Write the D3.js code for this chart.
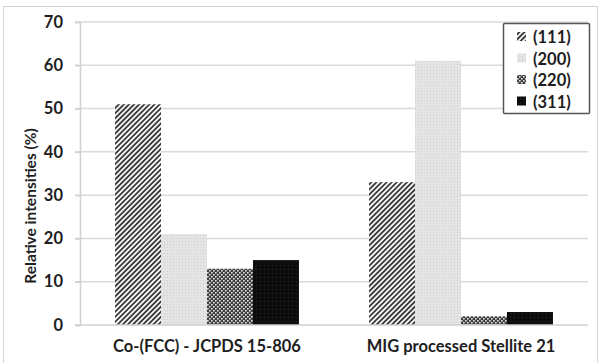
<!DOCTYPE html>
<html>
<head>
<meta charset="utf-8">
<script src="https://cdn.jsdelivr.net/npm/d3@7"></script>
<style>
html,body{margin:0;padding:0;background:#fff;}
svg{display:block;}
text{font-family:Lato,"Open Sans",sans-serif;font-weight:700;fill:#1e1e1e;}
</style>
</head>
<body>
<svg id="chart" width="604" height="363"></svg>
<script>
const categories = ["Co-(FCC) - JCPDS 15-806", "MIG processed Stellite 21"];
const seriesNames = ["(111)", "(200)", "(220)", "(311)"];
const s111 = [51, 33];
const s200 = [21, 61];
const s220 = [13, 2];
const s311 = [15, 3];
const yTicks = [0, 10, 20, 30, 40, 50, 60, 70];
const yTitle = "Relative intensities (%)";

const seriesValues = [s111, s200, s220, s311];
const patternIds = ["p111", "p200", "p220", "p311"];

const svg = d3.select("#chart");
const margin = {left: 80};

// outer chart border
svg.append("rect").attr("x", 3.5).attr("y", 6.5).attr("width", 594).attr("height", 370)
  .attr("fill", "none").attr("stroke", "#d4d4d4").attr("stroke-width", 1);

const defs = svg.append("defs");
// (111) diagonal stripes
const p1 = defs.append("pattern").attr("id", "p111").attr("patternUnits", "userSpaceOnUse")
  .attr("width", 3.6).attr("height", 3.6).attr("patternTransform", "rotate(45)");
p1.append("rect").attr("width", 3.6).attr("height", 3.6).attr("fill", "#f6f6f6");
p1.append("rect").attr("x", 0).attr("width", 1.8).attr("height", 3.6).attr("fill", "#3a3a3a");
// (200) light dotted
const p2 = defs.append("pattern").attr("id", "p200").attr("patternUnits", "userSpaceOnUse")
  .attr("width", 3).attr("height", 3);
p2.append("rect").attr("width", 3).attr("height", 3).attr("fill", "#e4e4e4");
p2.append("rect").attr("x", 1).attr("y", 1).attr("width", 1).attr("height", 1).attr("fill", "#cfcfcf");
// (220) checker dots
const p3 = defs.append("pattern").attr("id", "p220").attr("patternUnits", "userSpaceOnUse")
  .attr("width", 4).attr("height", 4);
p3.append("rect").attr("width", 4).attr("height", 4).attr("fill", "#3c3c3c");
p3.append("rect").attr("x", 0).attr("y", 0).attr("width", 1.6).attr("height", 1.6).attr("fill", "#e8e8e8");
p3.append("rect").attr("x", 2).attr("y", 2).attr("width", 1.6).attr("height", 1.6).attr("fill", "#e8e8e8");
// (311) near solid black
const p4 = defs.append("pattern").attr("id", "p311").attr("patternUnits", "userSpaceOnUse")
  .attr("width", 4).attr("height", 4);
p4.append("rect").attr("width", 4).attr("height", 4).attr("fill", "#0c0c0c");
p4.append("rect").attr("x", 1).attr("y", 1).attr("width", 1).attr("height", 1).attr("fill", "#2a2a2a");

const y = d3.scaleLinear().domain([0, 70]).range([325, 22]);
const x0 = d3.scaleBand().domain(categories).range([margin.left, 588]).paddingInner(0.276).paddingOuter(0.138);
const x1 = d3.scaleBand().domain(seriesNames).range([0, x0.bandwidth()]);

// gridlines
const grid = svg.append("g");
grid.selectAll("line").data(yTicks.filter(t => t > 0)).join("line")
  .attr("x1", 75).attr("x2", 588)
  .attr("y1", d => y(d)).attr("y2", d => y(d))
  .attr("stroke", "#d9d9d9").attr("stroke-width", 1.5);

// y axis
const yAxis = d3.axisLeft(y).tickValues(yTicks).tickSize(5).tickPadding(12);
const gy = svg.append("g").attr("transform", "translate(80,0)").call(yAxis);
gy.select(".domain").attr("stroke", "#d0d0d0").attr("stroke-width", 1.5);
gy.selectAll(".tick line").attr("stroke", "#d0d0d0").attr("stroke-width", 1.5);
gy.selectAll(".tick text").style("font-size", "16.5px").style("font-family", "Lato, sans-serif")
  .style("font-weight", "700").attr("fill", "#1e1e1e");

// bars
const groups = svg.append("g").selectAll("g").data(categories).join("g")
  .attr("transform", d => `translate(${x0(d)},0)`);
groups.selectAll("rect").data((d, i) => seriesNames.map((s, j) => ({s, j, v: seriesValues[j][i]})))
  .join("rect")
  .attr("x", d => x1(d.s)).attr("width", x1.bandwidth())
  .attr("y", d => y(d.v)).attr("height", d => y(0) - y(d.v))
  .attr("fill", d => `url(#${patternIds[d.j]})`);

// x axis
const xAxis = d3.axisBottom(x0).tickSize(0).tickPadding(15);
const gx = svg.append("g").attr("transform", "translate(0,325)").call(xAxis);
gx.select(".domain").attr("stroke", "#d0d0d0").attr("stroke-width", 1.5).attr("d", "M75,0H588");
gx.selectAll(".tick text").style("font-size", "16.5px").style("font-family", "Lato, sans-serif")
  .style("font-weight", "700").attr("fill", "#1e1e1e");

// y title
svg.append("text").attr("transform", "translate(36,206) rotate(-90)")
  .attr("text-anchor", "middle").style("font-size", "15.5px").text(yTitle);

// legend
const lg = svg.append("g").attr("transform", "translate(503,23)");
lg.append("rect").attr("x", 0.5).attr("y", 0.5).attr("width", 86).attr("height", 90)
  .attr("fill", "#fff").attr("stroke", "#555").attr("stroke-width", 1.5).attr("rx", 1);
const items = lg.selectAll("g").data(seriesNames).join("g")
  .attr("transform", (d, i) => `translate(0,${14 + i * 21.5})`);
items.append("rect").attr("x", 14).attr("y", -5).attr("width", 9).attr("height", 9)
  .attr("fill", (d, i) => `url(#${patternIds[i]})`);
items.append("text").attr("x", 30).attr("y", 6).style("font-size", "16.5px").text(d => d);
</script>
</body>
</html>
